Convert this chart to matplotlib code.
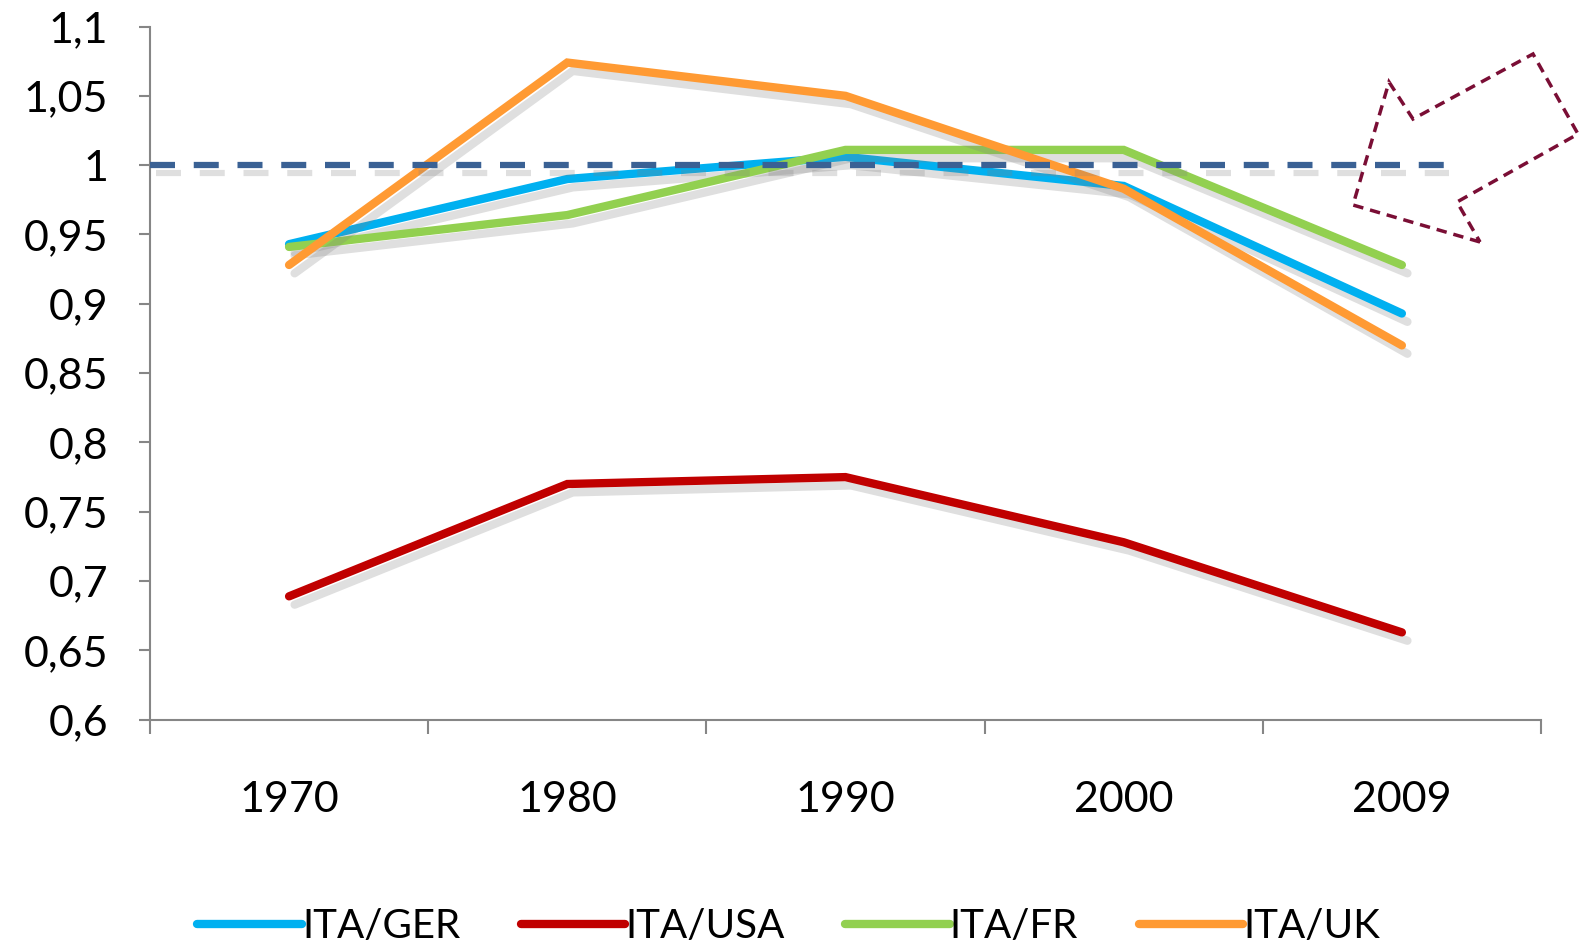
import matplotlib.pyplot as plt
import matplotlib.patheffects as pe
from matplotlib.patches import Polygon
from matplotlib.lines import Line2D
from matplotlib.ticker import FuncFormatter, FixedLocator

plt.rcParams['font.family'] = ['Lato', 'DejaVu Sans']

years = ['1970', '1980', '1990', '2000', '2009']
ita_ger = [0.943, 0.990, 1.006, 0.985, 0.893]
ita_usa = [0.689, 0.770, 0.775, 0.728, 0.663]
ita_fr = [0.941, 0.964, 1.011, 1.011, 0.928]
ita_uk = [0.928, 1.074, 1.050, 0.983, 0.870]
reference = 1.0

series = [
    ('ITA/GER', ita_ger, '#00B0F0'),
    ('ITA/USA', ita_usa, '#C00000'),
    ('ITA/FR', ita_fr, '#92D050'),
    ('ITA/UK', ita_uk, '#FF9A33'),
]

fig = plt.figure(figsize=(15.87, 9.47), dpi=100)
ax = fig.add_axes([0.0945, 0.240, 0.8765, 0.732])

shadow = [pe.SimpleLineShadow(offset=(4, -6), shadow_color='#808080', alpha=0.25),
          pe.Normal()]

x = list(range(len(years)))
handles = []
for name, vals, col in series:
    ax.plot(x, vals, color=col, lw=6, solid_capstyle='round',
            solid_joinstyle='miter', path_effects=shadow)
    handles.append(Line2D([], [], color=col, lw=6, solid_capstyle='round', label=name))

ax.plot([-0.5, 4.15], [reference, reference], color='#3A6194', lw=4.5,
        dashes=(4, 3), zorder=5, path_effects=shadow)

ax.set_xlim(-0.5, 4.5)
ax.set_ylim(0.6, 1.1)
ax.set_xticks(x)
ax.set_xticklabels(years)
ax.xaxis.set_minor_locator(FixedLocator([-0.5, 0.5, 1.5, 2.5, 3.5, 4.5]))
ax.tick_params(axis='x', which='major', length=0, pad=44, labelsize=31)
ax.tick_params(axis='x', which='minor', length=10, width=1.5, color='#868686')
ax.set_yticks([0.6 + 0.05 * i for i in range(11)])
ax.yaxis.set_major_formatter(FuncFormatter(lambda v, p: ('%g' % round(v, 2)).replace('.', ',')))
ax.tick_params(axis='y', length=8, width=1.5, color='#868686', pad=22, labelsize=31)

for s in ['top', 'right']:
    ax.spines[s].set_visible(False)
for s in ['left', 'bottom']:
    ax.spines[s].set_color('#868686')
    ax.spines[s].set_linewidth(1.5)

# dashed arrow pointing at the 2009 values
pts = [(1480, 242), (1353, 205), (1389, 82), (1413, 119),
       (1533, 54), (1578, 134), (1457, 202)]
arrow = Polygon([(px / 1587, 1 - py / 947) for px, py in pts], closed=True,
                fill=False, edgecolor='#7A0E35', lw=2.5, linestyle=(0, (3, 2)),
                transform=fig.transFigure)
fig.patches.append(arrow)

fig.legend(handles=handles, loc='lower center', bbox_to_anchor=(0.497, -0.036), ncol=4,
           frameon=False, fontsize=29, handlelength=2.6, handletextpad=0.0,
           columnspacing=1.5)

plt.savefig('out.png')
